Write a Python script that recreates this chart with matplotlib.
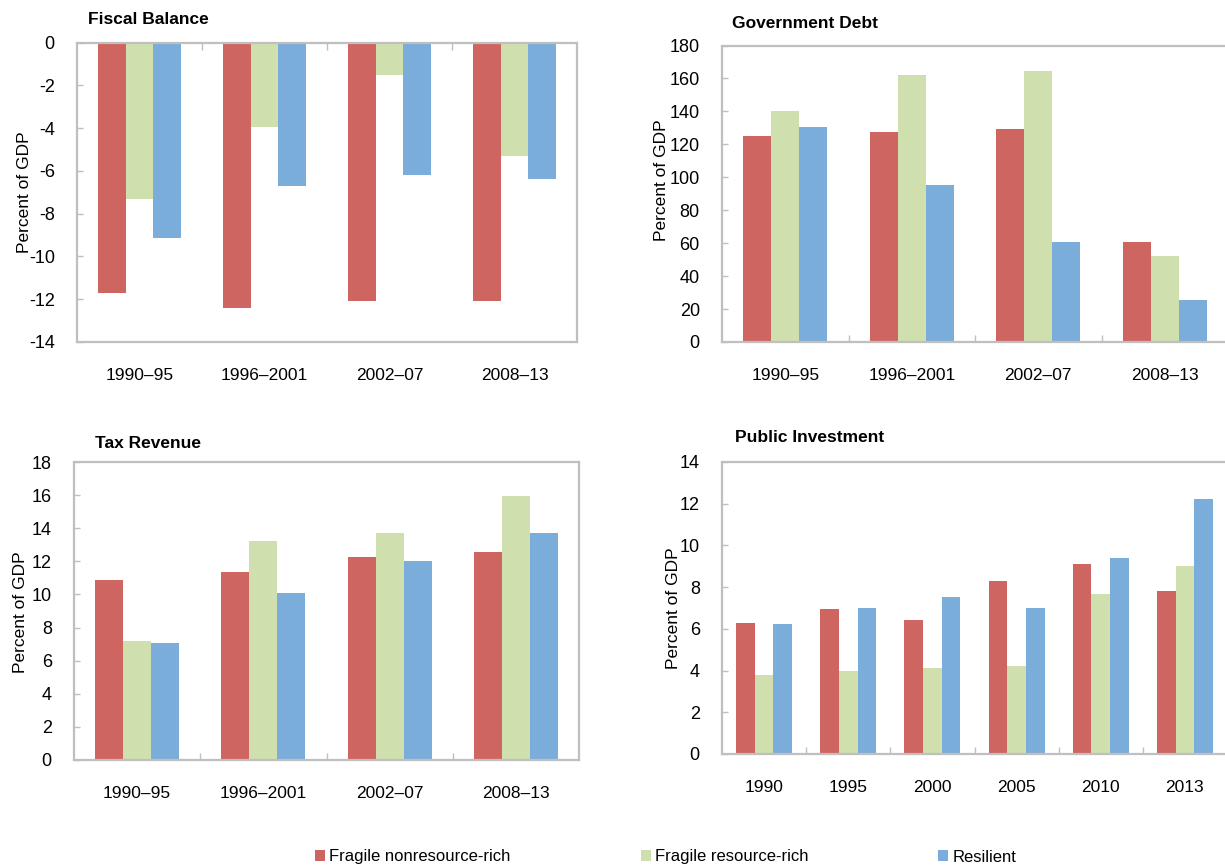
import numpy as np
import matplotlib
matplotlib.use("Agg")
import matplotlib.pyplot as plt
from matplotlib.patches import Patch

# --- data -------------------------------------------------------------
periods = ["1990–95", "1996–2001", "2002–07", "2008–13"]
years = ["1990", "1995", "2000", "2005", "2010", "2013"]
series_names = ["Fragile nonresource-rich", "Fragile resource-rich", "Resilient"]

fiscal_nonres = [-11.7, -12.4, -12.1, -12.1]
fiscal_res = [-7.3, -3.95, -1.5, -5.3]
fiscal_resilient = [-9.15, -6.7, -6.2, -6.4]

debt_nonres = [125.2, 127.4, 129.3, 60.5]
debt_res = [140.4, 161.9, 164.8, 52.4]
debt_resilient = [130.5, 95.2, 60.7, 25.2]

tax_nonres = [10.86, 11.37, 12.24, 12.56]
tax_res = [7.18, 13.24, 13.73, 15.96]
tax_resilient = [7.05, 10.06, 12.05, 13.71]

inv_nonres = [6.28, 6.94, 6.43, 8.28, 9.09, 7.80]
inv_res = [3.78, 3.99, 4.13, 4.23, 7.65, 8.99]
inv_resilient = [6.24, 7.02, 7.51, 7.00, 9.38, 12.21]

# --- style ------------------------------------------------------------
plt.rcParams["font.family"] = ["Liberation Sans", "DejaVu Sans"]
plt.rcParams["axes.unicode_minus"] = False
RED = "#CF6561"
GREEN = "#CFDFAD"
BLUE = "#7BADDB"
SPINE = "#BFBFBF"
FS = 13

W, H = 1225, 867
fig = plt.figure(figsize=(W / 100, H / 100), dpi=100)


def add_axes(left, right, top, bottom):
    return fig.add_axes([left / W, 1 - bottom / H, (right - left) / W, (bottom - top) / H])


def panel(ax, cats, a, b, c, lo, hi, step, cat_ticks_top=False):
    x = np.arange(len(cats))
    w = 0.222
    for off, vals, col in zip((-w, 0, w), (a, b, c), (RED, GREEN, BLUE)):
        ax.bar(x + off, vals, w, color=col, linewidth=0)
    ax.set_xlim(-0.5, len(cats) - 0.5)
    ax.set_ylim(lo, hi)
    ax.set_yticks(np.arange(lo, hi + step / 2, step))
    ax.set_xticks(x)
    ax.set_xticklabels(cats)
    ax.set_xticks(np.arange(1, len(cats)) - 0.5, minor=True)
    for s in ax.spines.values():
        s.set_color(SPINE)
        s.set_linewidth(1.6)
    ax.tick_params(axis="x", which="major", length=0, pad=19, labelsize=FS - 0.5)
    ax.tick_params(axis="x", which="minor", direction="in", length=5, width=1,
                   color=SPINE, top=cat_ticks_top, bottom=not cat_ticks_top)
    ax.tick_params(axis="y", direction="in", length=4, width=1, color=SPINE,
                   pad=16, labelsize=FS)


ax1 = add_axes(77, 577, 42.5, 342)
panel(ax1, periods, fiscal_nonres, fiscal_res, fiscal_resilient, -14, 0, 2, cat_ticks_top=True)

ax2 = add_axes(722, 1228, 45.5, 342)
panel(ax2, periods, debt_nonres, debt_res, debt_resilient, 0, 180, 20)

ax3 = add_axes(74, 579, 462, 760)
panel(ax3, periods, tax_nonres, tax_res, tax_resilient, 0, 18, 2)

ax4 = add_axes(722, 1227, 462, 754)
panel(ax4, years, inv_nonres, inv_res, inv_resilient, 0, 14, 2)

# panel titles
for txt, px, py in [("Fiscal Balance", 88, 19), ("Government Debt", 732, 23),
                    ("Tax Revenue", 95, 443), ("Public Investment", 735, 437)]:
    fig.text(px / W, 1 - py / H, txt, ha="left", va="center", fontsize=FS - 0.5,
             fontweight="bold")

# y-axis labels
for px, py in [(25, 192), (661, 180), (21, 612), (673, 608)]:
    fig.text(px / W, 1 - py / H, "Percent of GDP", ha="center", va="center",
             rotation=90, fontsize=FS - 0.5)

# shared legend
handles = [Patch(facecolor=c, edgecolor="none") for c in (RED, GREEN, BLUE)]
fig.legend(handles, series_names, loc="center left", bbox_to_anchor=(315 / W, 1 - 857 / H),
           ncol=3, frameon=False, fontsize=12, handlelength=0.6, handleheight=0.6,
           handletextpad=0.25, columnspacing=7.8, borderaxespad=0, borderpad=0)

fig.savefig("out.png", dpi=100)
